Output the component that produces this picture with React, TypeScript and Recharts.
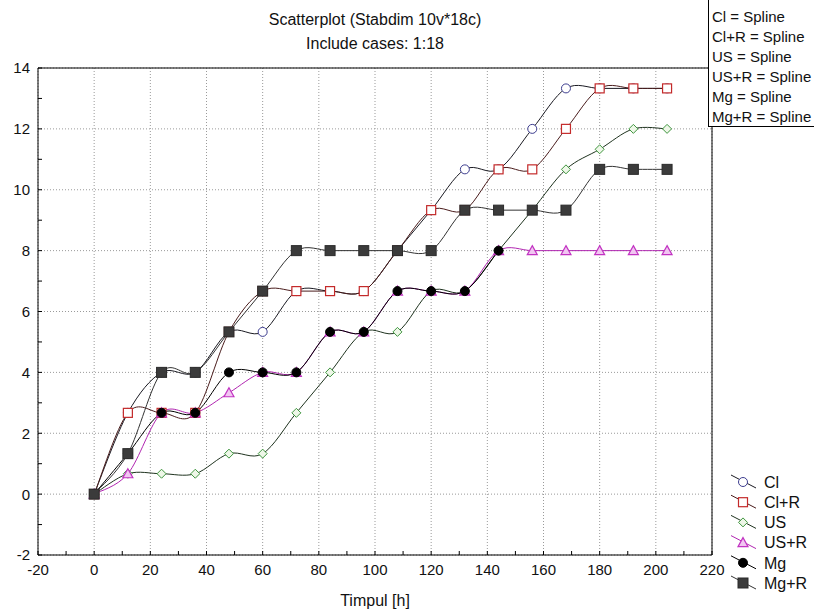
import React from 'react';
import { LineChart, Line, XAxis, YAxis, ReferenceLine, Legend } from 'recharts';

// 18 cases, one every 12 h
const times = [0, 12, 24, 36, 48, 60, 72, 84, 96, 108, 120, 132, 144, 156, 168, 180, 192, 204];

const cl = [0, 2.67, 4, 4, 5.33, 5.33, 6.67, 6.67, 6.67, 8, 9.33, 10.67, 10.67, 12, 13.33, 13.33, 13.33, 13.33];
const clR = [0, 2.67, 2.67, 2.67, 5.33, 6.67, 6.67, 6.67, 6.67, 8, 9.33, 9.33, 10.67, 10.67, 12, 13.33, 13.33, 13.33];
const us = [0, 0.67, 0.67, 0.67, 1.33, 1.33, 2.67, 4, 5.33, 5.33, 6.67, 6.67, 8, 9.33, 10.67, 11.33, 12, 12];
const usR = [0, 0.67, 2.67, 2.67, 3.33, 4, 4, 5.33, 5.33, 6.67, 6.67, 6.67, 8, 8, 8, 8, 8, 8];
const mg = [0, 1.33, 2.67, 2.67, 4, 4, 4, 5.33, 5.33, 6.67, 6.67, 6.67, 8, null, null, null, null, null];
const mgR = [0, 1.33, 4, 4, 5.33, 6.67, 8, 8, 8, 8, 8, 9.33, 9.33, 9.33, 9.33, 10.67, 10.67, 10.67];

const xTicks = [-20, 0, 20, 40, 60, 80, 100, 120, 140, 160, 180, 200, 220];
const xMinor = [-20, -10, 0, 10, 20, 30, 40, 50, 60, 70, 80, 90, 100, 110, 120, 130, 140, 150, 160, 170, 180, 190, 200, 210, 220];
const yTicks = [-2, 0, 2, 4, 6, 8, 10, 12, 14];
const yMinor = [-2, -1, 0, 1, 2, 3, 4, 5, 6, 7, 8, 9, 10, 11, 12, 13, 14];

const data = times.map((t, i) => ({
  t,
  cl: cl[i],
  clR: clR[i],
  us: us[i],
  usR: usR[i],
  mg: mg[i],
  mgR: mgR[i],
}));

const FONT = '"Liberation Sans Narrow", "Arial Narrow", "Liberation Sans", Arial, sans-serif';

// catmull-rom style spline, like the STATISTICA "Spline" fit
const spline = (context: any) => {
  let pts: number[][] = [];
  return {
    areaStart() {},
    areaEnd() {},
    lineStart() {
      pts = [];
    },
    point(x: number, y: number) {
      pts.push([+x, +y]);
    },
    lineEnd() {
      if (!pts.length) return;
      context.moveTo(pts[0][0], pts[0][1]);
      for (let i = 0; i < pts.length - 1; i++) {
        const p0 = pts[i > 0 ? i - 1 : i];
        const p1 = pts[i];
        const p2 = pts[i + 1];
        const p3 = pts[i + 2 < pts.length ? i + 2 : i + 1];
        context.bezierCurveTo(
          p1[0] + (p2[0] - p0[0]) / 6,
          p1[1] + (p2[1] - p0[1]) / 6,
          p2[0] - (p3[0] - p1[0]) / 6,
          p2[1] - (p3[1] - p1[1]) / 6,
          p2[0],
          p2[1]
        );
      }
    },
  };
};

type Marker = 'circle' | 'square' | 'diamond' | 'triangle' | 'dot' | 'block';

function markerShape(kind: Marker, x: number, y: number, key?: any) {
  switch (kind) {
    case 'circle':
      return <circle key={key} cx={x} cy={y} r={4.5} fill="#fff" stroke="#3d3d8f" strokeWidth={1} />;
    case 'square':
      return <rect key={key} x={x - 4.5} y={y - 4.5} width={9} height={9} fill="#fff" stroke="#c42a2a" strokeWidth={1.2} />;
    case 'diamond':
      return (
        <polygon key={key} points={`${x},${y - 4.5} ${x + 4.5},${y} ${x},${y + 4.5} ${x - 4.5},${y}`} fill="#eef7e8" stroke="#3f963f" strokeWidth={1} />
      );
    case 'triangle':
      return (
        <polygon key={key} points={`${x},${y - 5} ${x + 5},${y + 4} ${x - 5},${y + 4}`} fill="#f1c6f1" stroke="#c233c2" strokeWidth={1.2} />
      );
    case 'dot':
      return <circle key={key} cx={x} cy={y} r={4.5} fill="#000" stroke="#000" />;
    default:
      return <rect key={key} x={x - 5} y={y - 5} width={10} height={10} fill="#3b3b3b" stroke="#2a2a2a" />;
  }
}

const series: { key: string; name: string; stroke: string; marker: Marker }[] = [
  { key: 'cl', name: 'Cl', stroke: '#1a1a22', marker: 'circle' },
  { key: 'clR', name: 'Cl+R', stroke: '#4a1c1c', marker: 'square' },
  { key: 'us', name: 'US', stroke: '#1f331f', marker: 'diamond' },
  { key: 'usR', name: 'US+R', stroke: '#b126b1', marker: 'triangle' },
  { key: 'mg', name: 'Mg', stroke: '#000000', marker: 'dot' },
  { key: 'mgR', name: 'Mg+R', stroke: '#333333', marker: 'block' },
];

const XTick = (props: any) => {
  const { x, y, payload } = props;
  if (!xTicks.includes(payload.value)) return <g />;
  return (
    <text x={x} y={y} dy="0.75em" textAnchor="middle" fontSize={15} fontFamily={FONT} fill="#111">
      {payload.value}
    </text>
  );
};

const YTick = (props: any) => {
  const { x, y, payload } = props;
  if (!yTicks.includes(payload.value)) return <g />;
  return (
    <text x={x} y={y} dy="0.36em" textAnchor="end" fontSize={15} fontFamily={FONT} fill="#111">
      {payload.value}
    </text>
  );
};

const renderLegend = () => (
  <svg width={90} height={128} style={{ display: 'block' }}>
    {series.map((s, i) => {
      const cy = 12 + i * 20.2;
      return (
        <g key={s.key}>
          <line x1={3} y1={cy - 7} x2={28} y2={cy + 6} stroke={s.stroke} strokeWidth={1} />
          {markerShape(s.marker, 15, cy)}
          <text x={36} y={cy} dy="0.36em" fontSize={16} fontFamily={FONT} fill="#111">
            {s.name}
          </text>
        </g>
      );
    })}
  </svg>
);

export default function App() {
  return (
    <div style={{ position: 'absolute', left: 0, top: 0, width: 814, height: 612, background: '#fff', fontFamily: FONT, overflow: 'hidden' }}>
      <LineChart width={814} height={612} data={data} margin={{ top: 67, right: 101, left: 0, bottom: 0 }}>
        {xTicks.map((v) => (
          <ReferenceLine key={`gx${v}`} x={v} stroke="#9a9a9a" strokeDasharray="1 2" />
        ))}
        {yTicks.map((v) => (
          <ReferenceLine key={`gy${v}`} y={v} stroke="#9a9a9a" strokeDasharray="1 2" />
        ))}
        <XAxis
          dataKey="t"
          type="number"
          domain={[-20, 220]}
          ticks={xMinor}
          interval={0}
          height={57}
          tickSize={-4}
          tickMargin={13}
          tick={<XTick />}
          stroke="#000"
          label={{ value: 'Timpul [h]', position: 'insideBottom', offset: 6, fontSize: 16, fontFamily: FONT, fill: '#111' }}
        />
        <XAxis xAxisId="top" orientation="top" type="number" domain={[-20, 220]} ticks={xMinor} interval={0} height={1} tickSize={-4} tick={false} stroke="#000" />
        <YAxis type="number" domain={[-2, 14]} ticks={yMinor} interval={0} width={38} tickSize={-4} tickMargin={12} tick={<YTick />} stroke="#000" />
        <YAxis yAxisId="right" orientation="right" type="number" domain={[-2, 14]} ticks={yMinor} interval={0} width={1} tickSize={-4} tick={false} stroke="#000" />
        {series.map((s) => (
          <Line
            key={s.key}
            dataKey={s.key}
            name={s.name}
            type={spline as any}
            stroke={s.stroke}
            strokeWidth={1}
            isAnimationActive={false}
            dot={(p: any) => (p.value == null ? <g key={p.index} /> : markerShape(s.marker, p.cx, p.cy, p.index))}
            activeDot={false}
          />
        ))}
        <Legend
          content={renderLegend}
          layout="vertical"
          align="center"
          verticalAlign="middle"
          wrapperStyle={{ position: 'absolute', left: 728, top: 470, width: 90, height: 128 }}
        />
      </LineChart>
      <div style={{ position: 'absolute', left: 38, top: 8, width: 674, textAlign: 'center', fontSize: 16, lineHeight: '24px', color: '#111' }}>
        <div>Scatterplot (Stabdim 10v*18c)</div>
        <div>Include cases: 1:18</div>
      </div>
      <div
        style={{
          position: 'absolute',
          left: 708,
          top: -1,
          width: 120,
          height: 128,
          border: '1px solid #000',
          background: '#fff',
          boxSizing: 'border-box',
          paddingLeft: 3,
          paddingTop: 7,
          fontSize: 15,
          lineHeight: '20px',
          color: '#111',
          whiteSpace: 'nowrap',
        }}
      >
        <div>Cl = Spline</div>
        <div>Cl+R = Spline</div>
        <div>US = Spline</div>
        <div>US+R = Spline</div>
        <div>Mg = Spline</div>
        <div>Mg+R = Spline</div>
      </div>
    </div>
  );
}
